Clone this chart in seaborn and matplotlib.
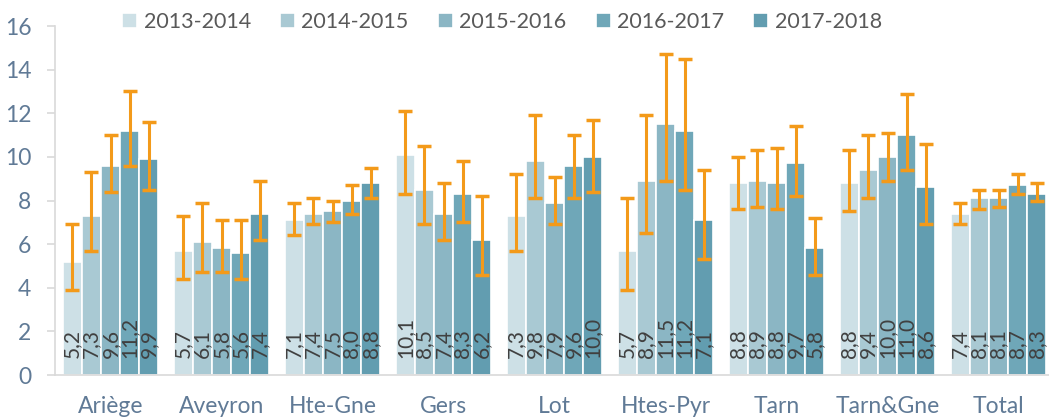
import numpy as np
import pandas as pd
import matplotlib
matplotlib.use("Agg")
import matplotlib.pyplot as plt
import seaborn as sns

# categories and seasons
departements = ["Ariège", "Aveyron", "Hte-Gne", "Gers", "Lot", "Htes-Pyr", "Tarn", "Tarn&Gne", "Total"]
saisons = ["2013-2014", "2014-2015", "2015-2016", "2016-2017", "2017-2018"]

# rates per season
rate_1314 = [5.2, 5.7, 7.1, 10.1, 7.3, 5.7, 8.8, 8.8, 7.4]
rate_1415 = [7.3, 6.1, 7.4, 8.5, 9.8, 8.9, 8.9, 9.4, 8.1]
rate_1516 = [9.6, 5.8, 7.5, 7.4, 7.9, 11.5, 8.8, 10.0, 8.1]
rate_1617 = [11.2, 5.6, 8.0, 8.3, 9.6, 11.2, 9.7, 11.0, 8.7]
rate_1718 = [9.9, 7.4, 8.8, 6.2, 10.0, 7.1, 5.8, 8.6, 8.3]

# confidence interval bounds
low_1314 = [3.9, 4.4, 6.4, 8.3, 5.7, 3.9, 7.6, 7.5, 6.9]
high_1314 = [6.9, 7.3, 7.9, 12.1, 9.2, 8.1, 10.0, 10.3, 7.9]
low_1415 = [5.7, 4.7, 6.9, 6.9, 8.1, 6.5, 7.7, 8.1, 7.6]
high_1415 = [9.3, 7.9, 8.1, 10.5, 11.9, 11.9, 10.3, 11.0, 8.5]
low_1516 = [8.4, 4.7, 7.0, 6.2, 6.9, 8.9, 7.6, 8.9, 7.7]
high_1516 = [11.0, 7.1, 8.0, 8.8, 9.1, 14.7, 10.4, 11.1, 8.5]
low_1617 = [9.6, 4.4, 7.4, 7.0, 8.1, 8.5, 8.2, 9.4, 8.3]
high_1617 = [13.0, 7.1, 8.7, 9.8, 11.0, 14.5, 11.4, 12.9, 9.2]
low_1718 = [8.5, 6.2, 8.1, 4.6, 8.4, 5.3, 4.6, 6.9, 8.0]
high_1718 = [11.6, 8.9, 9.5, 8.2, 11.7, 9.4, 7.2, 10.6, 8.8]

rates = [rate_1314, rate_1415, rate_1516, rate_1617, rate_1718]
lows = [low_1314, low_1415, low_1516, low_1617, low_1718]
highs = [high_1314, high_1415, high_1516, high_1617, high_1718]

couleurs = ["#CDE0E6", "#A9C9D3", "#8BB6C4", "#6FA7B8", "#629DB0"]
axis_col = "#607A96"
grey_line = "#D9D9D9"

df = pd.DataFrame({
    "dep": np.tile(departements, len(saisons)),
    "saison": np.repeat(saisons, len(departements)),
    "taux": np.concatenate(rates),
})

sns.set_style("white")
plt.rcParams["font.family"] = ["Lato", "DejaVu Sans"]

fig = plt.figure(figsize=(10.49, 4.19), dpi=100)
ax = fig.add_axes([55 / 1049, 44 / 419, 999 / 1049, 349 / 419])

sns.barplot(data=df, x="dep", y="taux", hue="saison", order=departements,
            hue_order=saisons, palette=couleurs, width=0.86, saturation=1,
            edgecolor="white", linewidth=1.2, errorbar=None, ax=ax)

bar_conts = list(ax.containers)

# error bars and value labels on each bar
for k, cont in enumerate(bar_conts):
    xs = [b.get_x() + b.get_width() / 2 for b in cont.patches]
    v = np.array(rates[k])
    yerr = [v - np.array(lows[k]), np.array(highs[k]) - v]
    ax.errorbar(xs, v, yerr=yerr, fmt="none", ecolor="#F39A1A",
                elinewidth=2.2, capsize=5, capthick=2.5, zorder=5)
    for x, val in zip(xs, v):
        ax.text(x, 0.8, f"{val:.1f}".replace(".", ","), rotation=90,
                ha="center", va="bottom", fontsize=15, color="#404040", zorder=6)

ax.set_ylim(0, 16)
ax.set_xlim(-0.5, len(departements) - 0.5)
ax.set_yticks(range(0, 17, 2))
ax.set_xlabel("")
ax.set_ylabel("")

ax.set_xticks(np.arange(-0.5, len(departements)), minor=True)
ax.tick_params(axis="x", which="major", length=0, pad=15, labelsize=16.5, labelcolor=axis_col)
ax.tick_params(axis="x", which="minor", length=6, width=1.2, color=grey_line, direction="out")
ax.tick_params(axis="y", length=6, width=1.2, color=grey_line, pad=11,
               labelsize=16.5, labelcolor=axis_col, left=True)

for s in ["top", "right"]:
    ax.spines[s].set_visible(False)
for s in ["left", "bottom"]:
    ax.spines[s].set_color(grey_line)
    ax.spines[s].set_linewidth(1.2)

handles, labels = ax.get_legend_handles_labels()
ax.get_legend().remove()
fig.legend(handles, labels, loc="center", bbox_to_anchor=(502 / 1049, 1 - 22 / 419),
           ncol=5, frameon=False, fontsize=15.5, handlelength=0.7, handleheight=0.7,
           handletextpad=0.3, columnspacing=1.35, labelcolor="#595959")

fig.savefig("out.png", dpi=100)
